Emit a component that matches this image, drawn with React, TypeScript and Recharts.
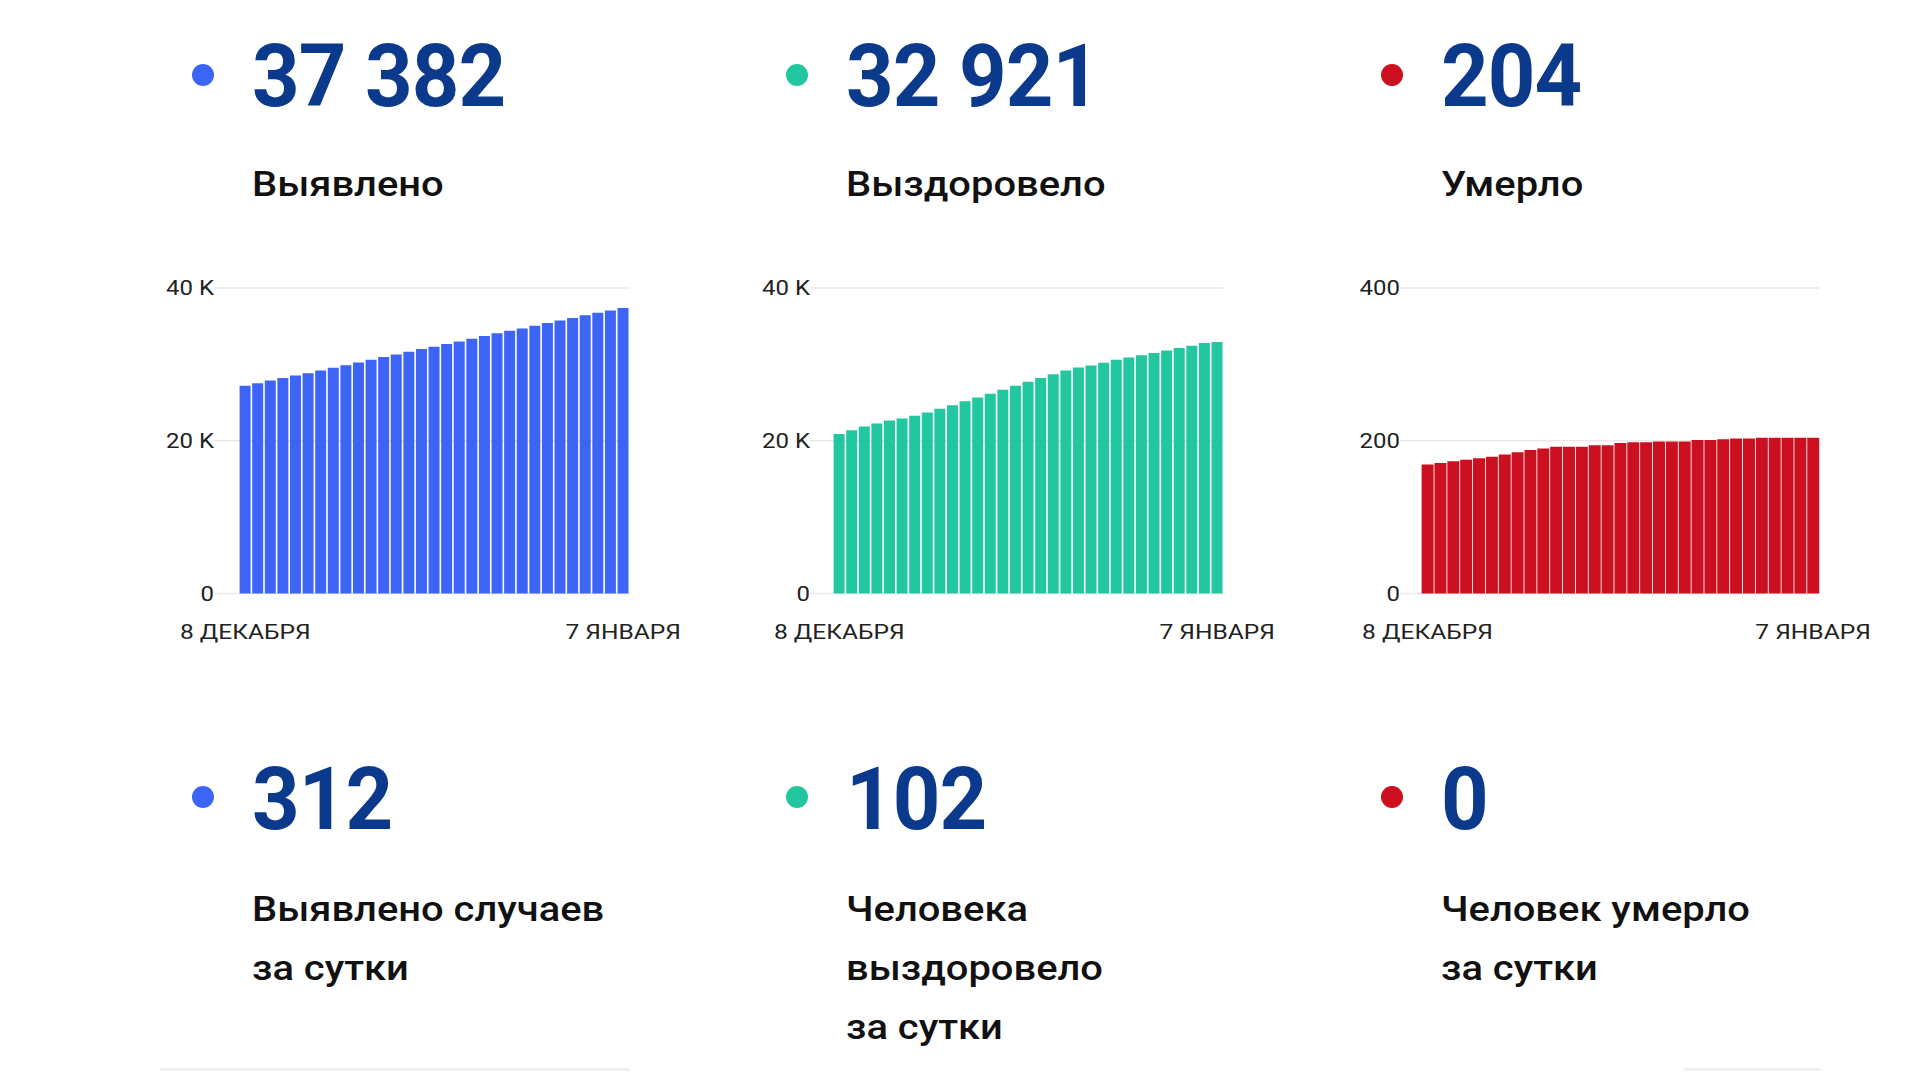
import React from 'react';
import { BarChart, Bar, XAxis, YAxis, CartesianGrid } from 'recharts';

const dates = [
  '8 ДЕКАБРЯ', '9 ДЕКАБРЯ', '10 ДЕКАБРЯ', '11 ДЕКАБРЯ', '12 ДЕКАБРЯ', '13 ДЕКАБРЯ', '14 ДЕКАБРЯ',
  '15 ДЕКАБРЯ', '16 ДЕКАБРЯ', '17 ДЕКАБРЯ', '18 ДЕКАБРЯ', '19 ДЕКАБРЯ', '20 ДЕКАБРЯ', '21 ДЕКАБРЯ',
  '22 ДЕКАБРЯ', '23 ДЕКАБРЯ', '24 ДЕКАБРЯ', '25 ДЕКАБРЯ', '26 ДЕКАБРЯ', '27 ДЕКАБРЯ', '28 ДЕКАБРЯ',
  '29 ДЕКАБРЯ', '30 ДЕКАБРЯ', '31 ДЕКАБРЯ', '1 ЯНВАРЯ', '2 ЯНВАРЯ', '3 ЯНВАРЯ', '4 ЯНВАРЯ',
  '5 ЯНВАРЯ', '6 ЯНВАРЯ', '7 ЯНВАРЯ',
];

const detected = [
  27190, 27540, 27890, 28200, 28550, 28850, 29200, 29550, 29900, 30250, 30600, 30950, 31300,
  31650, 32000, 32310, 32660, 33010, 33360, 33710, 34060, 34400, 34710, 35060, 35410, 35760,
  36070, 36420, 36770, 37070, 37382,
];

const recovered = [
  20900, 21380, 21860, 22250, 22650, 22910, 23260, 23690, 24180, 24660, 25180, 25660, 26140,
  26670, 27190, 27720, 28200, 28720, 29200, 29600, 29860, 30210, 30600, 30910, 31210, 31480,
  31830, 32130, 32440, 32790, 32921,
];

const deaths = [
  169, 171, 173, 175, 177, 179, 182, 185, 188, 190, 192, 192, 192, 194, 194, 197, 198, 198,
  199, 199, 199, 201, 201, 202, 203, 203, 204, 204, 204, 204, 204,
];

const ticksThousands = [0, 20000, 40000];
const ticksDeaths = [0, 200, 400];

const totals = ['37 382', '32 921', '204'];
const totalLabels = ['Выявлено', 'Выздоровело', 'Умерло'];
const daily = ['312', '102', '0'];
const dailyLabels = [
  ['Выявлено случаев', 'за сутки'],
  ['Человека', 'выздоровело', 'за сутки'],
  ['Человек умерло', 'за сутки'],
];

const BLUE = '#3d65f5';
const GREEN = '#22c7a0';
const RED = '#cc1020';
const NUM = '#0b3a8c';
const FONT = 'Roboto, "Noto Sans", sans-serif';
const TICK_STRETCH = 1.17;
const LABEL_STRETCH = 1.14;

const fmtK = (v: number) => (v === 0 ? '0' : `${v / 1000} K`);
const fmtPlain = (v: number) => `${v}`;

const YTick = (props: any) => {
  const { x, y, payload, fmt } = props;
  return (
    <g transform={`translate(${x},${y}) scale(${TICK_STRETCH},1)`}>
      <text x={0} y={0} dy="0.355em" textAnchor="end" fontSize={20.5} fill="#222" fontFamily={FONT}>
        {fmt(payload.value)}
      </text>
    </g>
  );
};

const XTick = (props: any) => {
  const { x, y, payload } = props;
  const show = payload.value === dates[0] || payload.value === dates[dates.length - 1];
  if (!show) return <g />;
  return (
    <g transform={`translate(${x},${y}) scale(${TICK_STRETCH},1)`}>
      <text x={0} y={0} dy="0.71em" textAnchor="middle" fontSize={21} fill="#222" fontFamily={FONT}>
        {payload.value}
      </text>
    </g>
  );
};

type ChartProps = {
  left: number;
  values: number[];
  color: string;
  ticks: number[];
  fmt: (v: number) => string;
  yWidth: number;
  right: number;
  pad: number;
};

const MiniChart = ({ left, values, color, ticks, fmt, yWidth, right, pad }: ChartProps) => {
  const rows = dates.map((d, i) => ({ date: d, v: values[i] }));
  return (
    <div style={{ position: 'absolute', left, top: 268, width: 560, height: 400 }}>
      <BarChart
        width={560}
        height={400}
        data={rows}
        margin={{ top: 20, right, bottom: 24.5, left: 0 }}
        barCategoryGap={0.6}
      >
        <CartesianGrid vertical={false} stroke="#e9e9e9" strokeWidth={1.5} />
        <XAxis
          dataKey="date"
          height={50}
          interval={0}
          axisLine={false}
          tickLine={false}
          tickSize={0}
          tickMargin={31}
          padding={{ left: pad, right: 0 }}
          tick={(p: any) => <XTick {...p} />}
        />
        <YAxis
          width={yWidth}
          domain={[0, ticks[ticks.length - 1]]}
          ticks={ticks}
          interval={0}
          axisLine={false}
          tickLine={false}
          tickSize={0}
          tickMargin={0}
          tick={(p: any) => <YTick {...p} fmt={fmt} />}
        />
        <Bar dataKey="v" fill={color} isAnimationActive={false} />
      </BarChart>
    </div>
  );
};

const colX = [251.5, 845.5, 1440.5];
const dotX = [203, 797, 1392];
const dotColors = [BLUE, GREEN, RED];

const Dot = ({ cx, cy, color }: { cx: number; cy: number; color: string }) => (
  <div
    style={{
      position: 'absolute',
      left: cx - 11,
      top: cy - 11,
      width: 22,
      height: 22,
      borderRadius: '50%',
      background: color,
    }}
  />
);

const BigNumber = ({ x, baseline, text }: { x: number; baseline: number; text: string }) => {
  const fs = 87;
  return (
    <div
      style={{
        position: 'absolute',
        left: x,
        top: baseline - 0.8415 * fs,
        fontSize: fs,
        lineHeight: 1,
        fontWeight: 700,
        color: NUM,
        fontFamily: FONT,
        whiteSpace: 'nowrap',
        letterSpacing: -1,
        transform: 'scaleX(0.955)',
        transformOrigin: 'left top',
      }}
    >
      {text}
    </div>
  );
};

const Label = ({ x, baseline, lines }: { x: number; baseline: number; lines: string[] }) => {
  const fs = 35;
  const lh = 59;
  const firstBaseline = (lh - 1.171 * fs) / 2 + 0.927 * fs;
  return (
    <div
      style={{
        position: 'absolute',
        left: x,
        top: baseline - firstBaseline,
        fontSize: fs,
        lineHeight: `${lh}px`,
        fontWeight: 500,
        color: '#111',
        fontFamily: FONT,
        whiteSpace: 'nowrap',
        transform: `scaleX(${LABEL_STRETCH})`,
        transformOrigin: 'left top',
      }}
    >
      {lines.map((l, i) => (
        <div key={i}>{l}</div>
      ))}
    </div>
  );
};

export default function App() {
  return (
    <div
      style={{
        position: 'absolute',
        left: 0,
        top: 0,
        width: 1920,
        height: 1080,
        background: '#fff',
        overflow: 'hidden',
      }}
    >
      {[0, 1, 2].map((i) => (
        <React.Fragment key={i}>
          <Dot cx={dotX[i]} cy={75} color={dotColors[i]} />
          <BigNumber x={colX[i]} baseline={106} text={totals[i]} />
          <Label x={colX[i]} baseline={196} lines={[totalLabels[i]]} />
          <Dot cx={dotX[i]} cy={797} color={dotColors[i]} />
          <BigNumber x={colX[i]} baseline={829} text={daily[i]} />
          <Label x={colX[i]} baseline={921} lines={dailyLabels[i]} />
        </React.Fragment>
      ))}

      <MiniChart left={140} values={detected} color={BLUE} ticks={ticksThousands} fmt={fmtK} yWidth={74} right={70.5} pad={25} />
      <MiniChart left={740} values={recovered} color={GREEN} ticks={ticksThousands} fmt={fmtK} yWidth={70} right={76.5} pad={23} />
      <MiniChart left={1330} values={deaths} color={RED} ticks={ticksDeaths} fmt={fmtPlain} yWidth={70} right={70.5} pad={21} />

      <div style={{ position: 'absolute', left: 160, top: 1068, width: 470, height: 3, background: '#f0f0f0' }} />
      <div style={{ position: 'absolute', left: 1684, top: 1068, width: 137, height: 3, background: '#f0f0f0' }} />
    </div>
  );
}
